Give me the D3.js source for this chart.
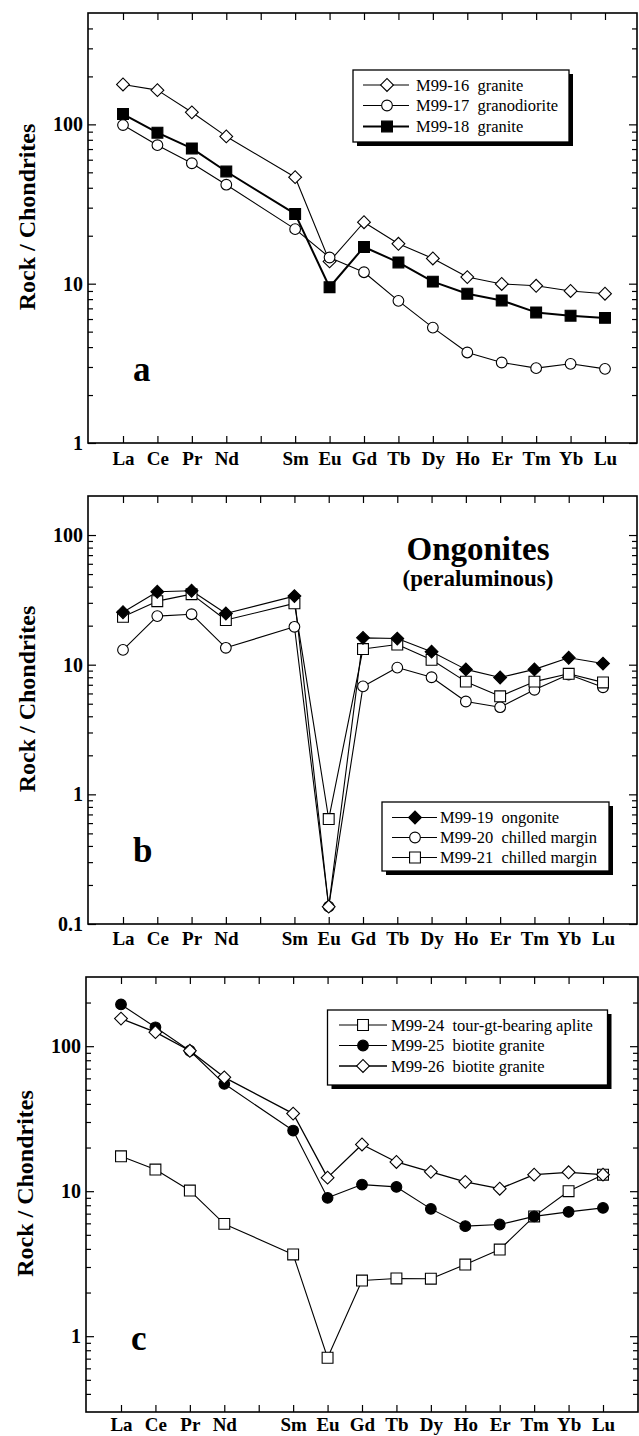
<!DOCTYPE html>
<html>
<head>
<meta charset="utf-8">
<script src="https://cdn.jsdelivr.net/npm/d3@7"></script>
<style>
  body { margin: 0; background: #fff; }
  svg { display: block; }
  text { font-family: "Liberation Serif", "Times New Roman", serif; fill: #000; }
</style>
</head>
<body>
<svg id="chart" width="639" height="1436"></svg>
<script>
// element order on the x axis (Pm has a tick but no label and no data)
const axisElements = ["La", "Ce", "Pr", "Nd", "Pm", "Sm", "Eu", "Gd", "Tb", "Dy", "Ho", "Er", "Tm", "Yb", "Lu"];
const ree = axisElements.filter(e => e !== "Pm");

// panel a
const m99_16 = [178, 164, 119, 84, 46.6, 13.8, 24.3, 17.8, 14.4, 11.0, 9.96, 9.7, 9.0, 8.65];
const m99_17 = [99, 74, 57, 41.8, 22, 14.6, 11.8, 7.8, 5.3, 3.7, 3.2, 2.95, 3.14, 2.92];
const m99_18 = [116, 88.7, 70.6, 50.6, 27.4, 9.5, 17.0, 13.6, 10.3, 8.65, 7.85, 6.6, 6.3, 6.1];

// panel b
const m99_19 = [25.4, 36.5, 37.2, 24.8, 33.8, 0.136, 16.1, 15.9, 12.6, 9.2, 7.97, 9.2, 11.3, 10.2];
const m99_20 = [13.0, 23.7, 24.5, 13.5, 19.6, 0.136, 6.8, 9.5, 8.0, 5.2, 4.7, 6.4, 8.4, 6.7];
const m99_21 = [23.4, 30.9, 35, 22.1, 29.7, 0.645, 13.2, 14.3, 10.9, 7.4, 5.7, 7.4, 8.5, 7.3];
const m99_19Hollow = ["Eu"]; // plotted as open symbol

// panel c
const m99_24 = [17.4, 14.1, 10.1, 5.95, 3.66, 0.71, 2.42, 2.50, 2.49, 3.12, 3.96, 6.7, 10, 13.0];
const m99_25 = [194, 135, 93, 55, 26.2, 9.0, 11.1, 10.7, 7.55, 5.74, 5.89, 6.7, 7.2, 7.67];
const m99_26 = [155, 125, 93, 61, 34.3, 12.4, 21, 15.9, 13.6, 11.6, 10.4, 13.0, 13.5, 13.0];

const labelsA = ["M99-16  granite", "M99-17  granodiorite", "M99-18  granite"];
const labelsB = ["M99-19  ongonite", "M99-20  chilled margin", "M99-21  chilled margin"];
const labelsC = ["M99-24  tour-gt-bearing aplite", "M99-25  biotite granite", "M99-26  biotite granite"];

const yTicksA = [1, 10, 100];
const yTicksB = [0.1, 1, 10, 100];
const yTicksC = [1, 10, 100];

const svg = d3.select("#chart");

const panels = [
    {
        letter: "a", left: 88, right: 637, top: 13, bottom: 443, xLa: 123, xLu: 605, labelPad: 9,
        yDomain: [1, 500], yTicks: yTicksA,
        // draw order: last on top
        series: [
            {values: m99_16, shape: "diamond", fill: "#fff", width: 1.1},
            {values: m99_18, shape: "square", fill: "#000", width: 2},
            {values: m99_17, shape: "circle", fill: "#fff", width: 1.1}
        ],
        legend: {x: 353, y: 70, w: 216, h: 72, lineX0: 363, lineX1: 409, markX: 387, textX: 416, rows: [85, 105.5, 126.5],
            items: [[labelsA[0], "diamond", "#fff", 1.1], [labelsA[1], "circle", "#fff", 1.1], [labelsA[2], "square", "#000", 2]]}
    },
    {
        letter: "b", left: 88, right: 637, top: 496, bottom: 924, xLa: 123, xLu: 603, labelPad: 8,
        yDomain: [0.1, 200], yTicks: yTicksB,
        series: [
            {values: m99_20, shape: "circle", fill: "#fff", width: 1.1},
            {values: m99_21, shape: "square", fill: "#fff", width: 1.1},
            {values: m99_19, shape: "diamond", fill: "#000", width: 1.1, hollow: m99_19Hollow}
        ],
        legend: {x: 382, y: 802, w: 227, h: 69, lineX0: 392, lineX1: 437, markX: 415, textX: 440, rows: [817.5, 837.5, 857.5],
            items: [[labelsB[0], "diamond", "#000", 1.1], [labelsB[1], "circle", "#fff", 1.1], [labelsB[2], "square", "#fff", 1.1]]},
        title: true
    },
    {
        letter: "c", left: 86, right: 638, top: 977, bottom: 1412, xLa: 121, xLu: 603, labelPad: 6,
        yDomain: [0.3, 300], yTicks: yTicksC,
        series: [
            {values: m99_24, shape: "square", fill: "#fff", width: 1.1},
            {values: m99_25, shape: "circle", fill: "#000", width: 1.1},
            {values: m99_26, shape: "diamond", fill: "#fff", width: 1.3}
        ],
        legend: {x: 327.5, y: 1010, w: 280, h: 75, lineX0: 339, lineX1: 387, markX: 363, textX: 391, rows: [1025, 1045.5, 1066],
            items: [[labelsC[0], "square", "#fff", 1.1], [labelsC[1], "circle", "#000", 1.1], [labelsC[2], "diamond", "#fff", 1.3]]}
    }
];

function symbolPath(shape) {
    if (shape === "circle") return d3.symbol(d3.symbolCircle, 90)();
    if (shape === "square") return d3.symbol(d3.symbolSquare, 118)();
    return d3.symbol(d3.symbolSquare, 82)(); // rotated 45deg -> diamond
}

function drawMarker(g, x, y, shape, fill) {
    g.append("path")
        .attr("d", symbolPath(shape))
        .attr("transform", `translate(${x},${y})` + (shape === "diamond" ? " rotate(45)" : ""))
        .attr("fill", fill)
        .attr("stroke", "#000")
        .attr("stroke-width", 1.1);
}

// minor tick values between the decades of a log domain
function minorTicks(domain) {
    const out = [];
    const lo = Math.floor(Math.log10(domain[0]));
    const hi = Math.ceil(Math.log10(domain[1]));
    for (let e = lo; e < hi; e++) {
        for (let m = 2; m <= 9; m++) {
            const v = m * Math.pow(10, e);
            if (v > domain[0] * 1.0001 && v < domain[1] * 0.9999) out.push(+v.toPrecision(3));
        }
    }
    return out;
}

panels.forEach(p => {
    const g = svg.append("g");
    const x = d3.scalePoint().domain(axisElements).range([p.xLa, p.xLu]);
    const y = d3.scaleLog().domain(p.yDomain).range([p.bottom, p.top]);
    const fmt = d => d >= 1 ? d3.format("d")(d) : String(d);

    // axes, ticks pointing inward
    const bottomAx = g.append("g").attr("transform", `translate(0,${p.bottom})`)
        .call(d3.axisBottom(x).tickSizeInner(-7).tickSizeOuter(0).tickPadding(p.labelPad)
            .tickFormat(d => d === "Pm" ? "" : d));
    const topAx = g.append("g").attr("transform", `translate(0,${p.top})`)
        .call(d3.axisTop(x).tickSizeInner(-7).tickSizeOuter(0).tickFormat(""));
    const leftMajor = g.append("g").attr("transform", `translate(${p.left},0)`)
        .call(d3.axisLeft(y).tickValues(p.yTicks).tickSizeInner(-8).tickSizeOuter(0).tickPadding(5).tickFormat(fmt));
    const leftMinor = g.append("g").attr("transform", `translate(${p.left},0)`)
        .call(d3.axisLeft(y).tickValues(minorTicks(p.yDomain)).tickSizeInner(-5).tickSizeOuter(0).tickFormat(""));
    const rightMajor = g.append("g").attr("transform", `translate(${p.right},0)`)
        .call(d3.axisRight(y).tickValues(p.yTicks).tickSizeInner(-8).tickSizeOuter(0).tickFormat(""));
    const rightMinor = g.append("g").attr("transform", `translate(${p.right},0)`)
        .call(d3.axisRight(y).tickValues(minorTicks(p.yDomain)).tickSizeInner(-5).tickSizeOuter(0).tickFormat(""));

    [bottomAx, topAx, leftMajor, leftMinor, rightMajor, rightMinor].forEach(a => {
        a.select(".domain").remove();
        a.selectAll("line").attr("stroke", "#000").attr("stroke-width", 1.2);
    });
    bottomAx.selectAll("text").attr("font-size", 19).attr("font-weight", "bold")
        .attr("font-family", "'Liberation Serif', 'Times New Roman', serif");
    leftMajor.selectAll("text").attr("font-size", 20).attr("font-weight", "bold")
        .attr("font-family", "'Liberation Serif', 'Times New Roman', serif");

    // frame
    g.append("rect")
        .attr("x", p.left).attr("y", p.top)
        .attr("width", p.right - p.left).attr("height", p.bottom - p.top)
        .attr("fill", "none").attr("stroke", "#000").attr("stroke-width", 1.6);

    // y label
    g.append("text")
        .attr("transform", `translate(${p.left - 53},${(p.top + p.bottom) / 2 - 11}) rotate(-90)`)
        .attr("text-anchor", "middle")
        .attr("font-size", 24).attr("font-weight", "bold")
        .text("Rock / Chondrites");

    // panel letter
    g.append("text")
        .attr("x", p.left + 45).attr("y", p.bottom - 62)
        .attr("font-size", 35).attr("font-weight", "bold")
        .text(p.letter);

    if (p.title) {
        g.append("text").attr("x", 478).attr("y", p.top + 64)
            .attr("text-anchor", "middle").attr("font-size", 33).attr("font-weight", "bold")
            .text("Ongonites");
        g.append("text").attr("x", 478).attr("y", p.top + 90)
            .attr("text-anchor", "middle").attr("font-size", 23).attr("font-weight", "bold")
            .text("(peraluminous)");
    }

    // series
    const line = d3.line().x((d, i) => x(ree[i])).y(d => y(d));
    p.series.forEach(s => {
        g.append("path")
            .attr("d", line(s.values))
            .attr("fill", "none").attr("stroke", "#000").attr("stroke-width", s.width)
            .attr("stroke-linejoin", "round");
    });
    p.series.forEach(s => {
        s.values.forEach((v, i) => {
            const hollow = s.hollow && s.hollow.includes(ree[i]);
            drawMarker(g, x(ree[i]), y(v), s.shape, hollow ? "#fff" : s.fill);
        });
    });

    // legend with drop shadow
    const L = p.legend;
    const lg = g.append("g");
    lg.append("rect").attr("x", L.x + 4).attr("y", L.y + 4).attr("width", L.w).attr("height", L.h).attr("fill", "#000");
    lg.append("rect").attr("x", L.x).attr("y", L.y).attr("width", L.w).attr("height", L.h)
        .attr("fill", "#fff").attr("stroke", "#000").attr("stroke-width", 1.3);
    L.items.forEach((it, i) => {
        const ry = L.rows[i];
        lg.append("line").attr("x1", L.lineX0).attr("x2", L.lineX1).attr("y1", ry).attr("y2", ry)
            .attr("stroke", "#000").attr("stroke-width", it[3]);
        drawMarker(lg, L.markX, ry, it[1], it[2]);
        lg.append("text").attr("x", L.textX).attr("y", ry + 5.5)
            .attr("font-size", 16.5).style("white-space", "pre")
            .text(it[0]);
    });
});
</script>
</body>
</html>
